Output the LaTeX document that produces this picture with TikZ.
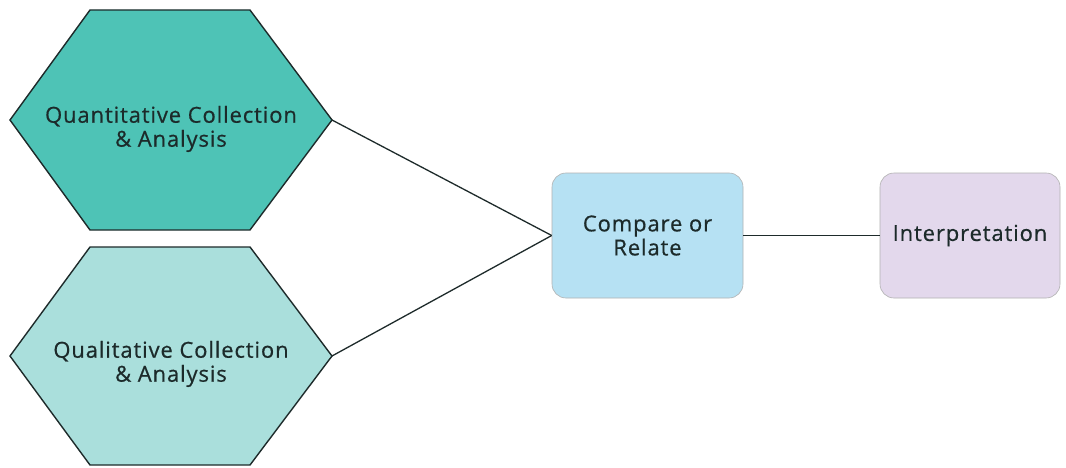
\documentclass[tikz,border=0pt]{standalone}
\usepackage{fontspec}
\setmainfont{Open Sans}[LetterSpace=4,FakeBold=0.6]
\definecolor{quanfill}{HTML}{4EC3B6}
\definecolor{qualfill}{HTML}{AADFDC}
\definecolor{cmpfill}{HTML}{B6E1F3}
\definecolor{intfill}{HTML}{E3D8EC}
\definecolor{txt}{HTML}{1C2A2A}
\definecolor{edge}{HTML}{1E2B2B}
\tikzset{
  hexshape/.style={draw=edge, line width=1.4pt, line join=miter},
  lbl/.style={text=txt, font=\fontsize{22}{24}\selectfont, align=center},
  rbox/.style={draw=gray!60, line width=0.6pt, rounded corners=14pt, minimum width=191pt, minimum height=125pt, font=\fontsize{22}{24}\selectfont, text=txt, align=center},
  link/.style={draw=edge, line width=1.3pt}
}
\begin{document}
\begin{tikzpicture}[x=1pt,y=1pt]
\useasboundingbox (0,0) rectangle (1066,467);
\fill[white] (0,0) rectangle (1066,467);
% Top hexagon
\filldraw[hexshape, fill=quanfill] (90,457) -- (250,457) -- (332,347) -- (250,237) -- (90,237) -- (10,347) -- cycle;
\coordinate (quanR) at (332,347);
\node[lbl] (quan) at (171,338) {Quantitative Collection\\\& Analysis};
% Bottom hexagon
\filldraw[hexshape, fill=qualfill] (90,220) -- (250,220) -- (332,111) -- (250,2) -- (90,2) -- (10,111) -- cycle;
\coordinate (qualR) at (332,111);
\node[lbl] (qual) at (171,103) {Qualitative Collection\\\& Analysis};
% Boxes
\node[rbox, fill=cmpfill] (cmp) at (647.5,231.5) {Compare or\\Relate};
\node[rbox, fill=intfill, minimum width=180pt] (int) at (970,231.5) {Interpretation};
% Connectors
\draw[link] (quanR) -- (cmp.west);
\draw[link] (qualR) -- (cmp.west);
\draw[link] (cmp.east) -- (int.west);
\end{tikzpicture}
\end{document}
